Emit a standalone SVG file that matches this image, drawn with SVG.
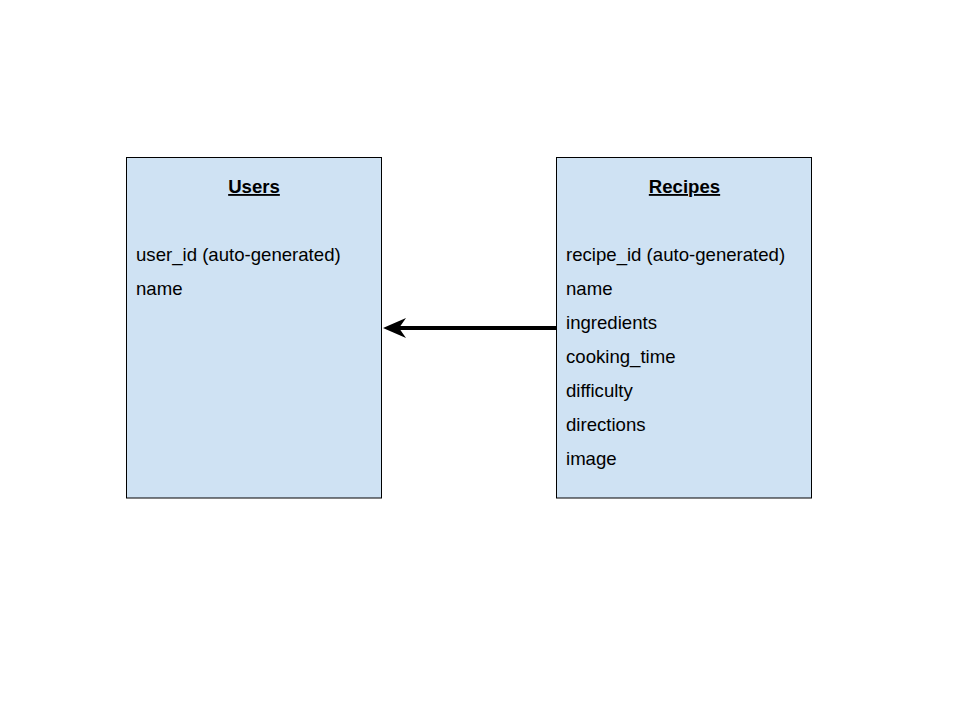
<svg xmlns="http://www.w3.org/2000/svg" width="960" height="720" viewBox="0 0 960 720">
<defs>
<style>
.box{fill:#cfe2f3;stroke:#000;stroke-width:1}
.t{font-family:"Liberation Sans",Arial,sans-serif;font-size:18.6px;fill:#000}
.h{font-weight:bold;text-decoration:underline;text-anchor:middle}
.conn{stroke:#000;stroke-width:4;fill:none}
.head{fill:#000}
</style>
</defs>
<rect width="960" height="720" fill="#fff"/>
<g id="users">
<rect class="box" x="126.5" y="157.5" width="255" height="340.5"/>
<text class="t h" x="254" y="193">Users</text>
<text class="t" x="136" y="261">user_id (auto-generated)</text>
<text class="t" x="136" y="295">name</text>
</g>
<g id="recipes">
<rect class="box" x="556.5" y="157.5" width="255" height="340.5"/>
<text class="t h" x="684.5" y="193">Recipes</text>
<text class="t" x="566" y="261">recipe_id (auto-generated)</text>
<text class="t" x="566" y="295">name</text>
<text class="t" x="566" y="329">ingredients</text>
<text class="t" x="566" y="363">cooking_time</text>
<text class="t" x="566" y="397">difficulty</text>
<text class="t" x="566" y="431">directions</text>
<text class="t" x="566" y="465">image</text>
</g>
<g id="connectors">
<path class="conn" d="M556,328 L398,328"/>
<path class="head" d="M383,328 L406,318 L399,328 L406,338 Z"/>
</g>
</svg>
